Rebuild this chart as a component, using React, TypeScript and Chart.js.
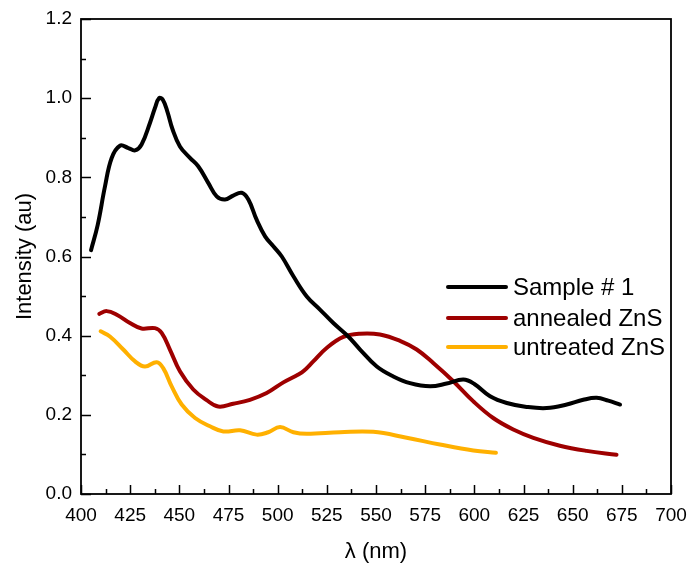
import React, { useEffect, useRef } from "react";
import { Chart, registerables } from "chart.js";

Chart.register(...registerables);

const FONT = "'Liberation Sans', Arial, Helvetica, sans-serif";

// Sample # 1 (black)
const sampleX = [405.1, 408.5, 412.2, 415.6, 419.8, 424.1, 427.5, 430.8, 435.1, 437.6, 439.7, 441.6, 444.0, 446.5, 450.3, 455.4, 459.6, 464.7, 469.0, 473.2, 477.4, 481.7, 485.1, 489.3, 493.6, 497.8, 502.1, 508.0, 514.8, 521.5, 528.3, 535.9, 541.9, 550.4, 558.8, 567.3, 577.5, 585.9, 594.4, 600.0, 608.0, 616.5, 626.6, 636.8, 647.0, 655.4, 662.2, 668.1, 674.1];
const sampleY = [0.616, 0.680, 0.777, 0.849, 0.880, 0.874, 0.868, 0.883, 0.938, 0.975, 1.000, 0.996, 0.965, 0.922, 0.878, 0.849, 0.828, 0.786, 0.752, 0.744, 0.754, 0.761, 0.744, 0.693, 0.651, 0.626, 0.600, 0.550, 0.499, 0.466, 0.432, 0.398, 0.365, 0.322, 0.297, 0.280, 0.272, 0.279, 0.289, 0.278, 0.247, 0.230, 0.220, 0.217, 0.226, 0.238, 0.243, 0.236, 0.226];

// annealed ZnS (dark red)
const annealedX = [409.3, 413.1, 418.2, 424.9, 430.8, 437.6, 441.0, 445.2, 450.3, 457.1, 463.9, 469.8, 477.4, 485.9, 494.4, 502.9, 510.5, 513.5, 518.1, 524.9, 533.4, 541.9, 552.0, 562.2, 570.7, 579.1, 589.3, 599.5, 609.6, 619.8, 630.0, 643.5, 657.1, 672.3];
const annealedY = [0.455, 0.462, 0.453, 0.432, 0.418, 0.419, 0.407, 0.365, 0.310, 0.264, 0.237, 0.221, 0.228, 0.238, 0.255, 0.282, 0.302, 0.312, 0.335, 0.369, 0.397, 0.405, 0.403, 0.387, 0.365, 0.331, 0.285, 0.234, 0.192, 0.163, 0.142, 0.122, 0.109, 0.099];

// untreated ZnS (orange)
const untreatedX = [410.0, 414.7, 421.5, 427.5, 432.5, 438.5, 441.8, 446.1, 451.2, 458.0, 465.6, 472.4, 480.9, 489.3, 495.2, 501.2, 508.0, 514.8, 531.7, 548.6, 565.6, 582.5, 599.5, 611.0];
const untreatedY = [0.411, 0.398, 0.365, 0.335, 0.322, 0.333, 0.318, 0.272, 0.226, 0.192, 0.171, 0.158, 0.161, 0.150, 0.156, 0.169, 0.156, 0.152, 0.156, 0.157, 0.142, 0.125, 0.110, 0.104];

const seriesLabels = ["Sample # 1", "annealed ZnS", "untreated ZnS"];
const seriesColors = ["#000000", "#9E0000", "#FFB000"];

const xMin = 400, xMax = 700, xStep = 25;
const yMin = 0, yMax = 1.2, yStep = 0.2;
const xTitle = "λ (nm)";
const yTitle = "Intensity (au)";

const toPoints = (xs: number[], ys: number[]) => xs.map((x, i) => ({ x, y: ys[i] }));

const framePlugin = {
  id: "frameTicksLegend",
  afterDatasetsDraw(chart: any) {
    const { ctx, chartArea } = chart;
    const { left, right, top, bottom } = chartArea;
    const xs = chart.scales.x;
    const ys = chart.scales.y;
    ctx.save();
    ctx.strokeStyle = "#000";
    ctx.lineWidth = 1.5;
    ctx.beginPath();
    for (let v = xMin; v <= xMax + 1e-6; v += xStep / 2) {
      const px = Math.round(xs.getPixelForValue(v)) + 0.5;
      const major = Math.abs((v - xMin) / xStep - Math.round((v - xMin) / xStep)) < 1e-6;
      const len = major ? 9 : 5;
      ctx.moveTo(px, bottom);
      ctx.lineTo(px, bottom - len);
    }
    for (let v = yMin; v <= yMax + 1e-6; v += yStep / 2) {
      const py = Math.round(ys.getPixelForValue(v)) + 0.5;
      const major = Math.abs((v - yMin) / yStep - Math.round((v - yMin) / yStep)) < 1e-6;
      const len = major ? 10 : 5;
      ctx.moveTo(left, py);
      ctx.lineTo(left + len, py);
    }
    ctx.stroke();
    ctx.lineWidth = 1.8;
    ctx.strokeRect(left, top, right - left, bottom - top);

    // legend
    const lx0 = 448, lx1 = 506, tx = 513;
    const rows = [287, 318, 347];
    ctx.font = `24px ${FONT}`;
    ctx.textBaseline = "middle";
    ctx.textAlign = "left";
    chart.data.datasets.forEach((ds: any, i: number) => {
      ctx.strokeStyle = ds.borderColor;
      ctx.lineWidth = 4;
      ctx.lineCap = "round";
      ctx.beginPath();
      ctx.moveTo(lx0, rows[i]);
      ctx.lineTo(lx1, rows[i]);
      ctx.stroke();
      ctx.fillStyle = "#000";
      ctx.fillText(ds.label, tx, rows[i] + 1);
    });
    ctx.restore();
  },
};

export default function App() {
  const ref = useRef<HTMLCanvasElement | null>(null);
  useEffect(() => {
    if (!ref.current) return;
    const mk = (i: number, xs: number[], ys: number[]) => ({
      label: seriesLabels[i],
      data: toPoints(xs, ys),
      borderColor: seriesColors[i],
      backgroundColor: seriesColors[i],
      borderWidth: 4,
      pointRadius: 0,
      tension: 0.4,
      borderCapStyle: "round" as const,
      borderJoinStyle: "round" as const,
      fill: false,
    });
    const chart = new Chart(ref.current, {
      type: "line",
      data: {
        datasets: [
          mk(0, sampleX, sampleY),
          mk(1, annealedX, annealedY),
          mk(2, untreatedX, untreatedY),
        ],
      },
      options: {
        responsive: false,
        animation: false,
        devicePixelRatio: 1,
        layout: { padding: { left: 0, top: 19, right: 18, bottom: 0 } },
        plugins: { legend: { display: false }, tooltip: { enabled: false } },
        scales: {
          x: {
            type: "linear",
            min: xMin,
            max: xMax,
            grid: { display: false, drawTicks: false },
            border: { display: false },
            ticks: {
              stepSize: xStep,
              padding: 10,
              color: "#000",
              font: { family: FONT, size: 19 },
              maxRotation: 0,
              autoSkip: false,
              callback: (v: any) => String(Math.round(Number(v))),
            },
            title: {
              display: true,
              text: xTitle,
              color: "#000",
              font: { family: FONT, size: 22 },
              padding: { top: 0, bottom: 1 },
            },
            afterFit: (s: any) => {
              s.height = 72;
              s.paddingLeft = 0;
              s.paddingRight = 0;
            },
          },
          y: {
            type: "linear",
            min: yMin,
            max: yMax,
            grid: { display: false, drawTicks: false },
            border: { display: false },
            ticks: {
              stepSize: yStep,
              padding: 9,
              color: "#000",
              font: { family: FONT, size: 19 },
              autoSkip: false,
              callback: (v: any) => Number(v).toFixed(1),
            },
            title: {
              display: true,
              text: yTitle,
              color: "#000",
              font: { family: FONT, size: 22 },
              padding: { top: 12, bottom: 0 },
            },
            afterFit: (s: any) => {
              s.width = 81;
              s.paddingTop = 0;
              s.paddingBottom = 0;
            },
          },
        },
      },
      plugins: [framePlugin],
    });
    return () => chart.destroy();
  }, []);
  return (
    <div style={{ position: "absolute", left: 0, top: 0, width: 689, height: 566, background: "#fff" }}>
      <canvas ref={ref} width={689} height={566} style={{ display: "block" }} />
    </div>
  );
}
